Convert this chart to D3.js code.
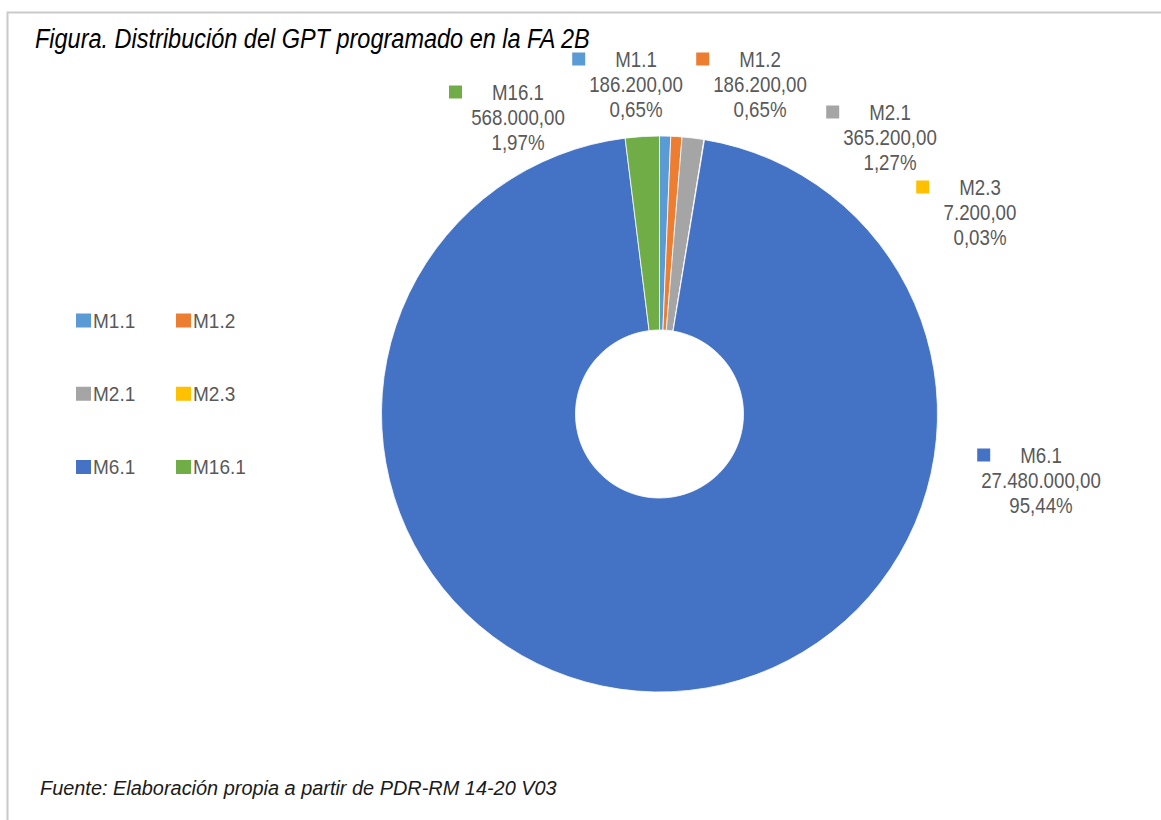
<!DOCTYPE html>
<html>
<head>
<meta charset="utf-8">
<script src="https://cdn.jsdelivr.net/npm/d3@7"></script>
<style>
  body { margin: 0; background: #fff; }
  svg { display: block; }
  text { font-family: "Liberation Sans Narrow", "Arial Narrow", "Liberation Sans", sans-serif; }
</style>
</head>
<body>
<div id="chart-area"></div>
<script>
// Data
let categories = ["M1.1", "M1.2", "M2.1", "M2.3", "M6.1", "M16.1"];
let values = [186200, 186200, 365200, 7200, 27480000, 568000];
let valueLabels = ["186.200,00", "186.200,00", "365.200,00", "7.200,00", "27.480.000,00", "568.000,00"];
let percentLabels = ["0,65%", "0,65%", "1,27%", "0,03%", "95,44%", "1,97%"];
let colors = ["#5B9BD5", "#ED7D31", "#A5A5A5", "#FFC000", "#4472C4", "#70AD47"];

// where Excel put each data label (centre of the value line)
let labelAt = [[636, 84], [760, 84], [890, 137], [980, 212], [1041, 480], [518, 117]];

let width = 1161,
  height = 820;

// squeeze a text horizontally, the installed fonts are wider than the narrow one used
function condense(sel, k) {
  sel.each(function() {
    let w = this.getComputedTextLength();
    d3.select(this)
      .attr("textLength", w * k)
      .attr("lengthAdjust", "spacingAndGlyphs");
  });
}

// squeeze a left-anchored text to a given width with a transform
function fitWidth(sel, x, y, target) {
  let w = sel.node().getComputedTextLength();
  sel
    .attr("x", 0)
    .attr("y", 0)
    .attr("transform", "translate(" + x + "," + y + ") scale(" + target / w + ",1)");
}

let svg = d3
  .select("#chart-area")
  .append("svg")
  .attr("width", width)
  .attr("height", height);

// frame
svg
  .append("path")
  .attr("d", "M7.5,820 L7.5,12.5 L1161,12.5")
  .attr("fill", "none")
  .attr("stroke", "#c9c9c9")
  .attr("stroke-width", 2);

// title
svg
  .append("text")
  .text("Figura. Distribución del GPT programado en la FA 2B")
  .style("font-size", "27px")
  .style("font-style", "italic")
  .style("fill", "#000")
  .call(fitWidth, 35, 48, 555);

// footer
svg
  .append("text")
  .text("Fuente: Elaboración  propia a partir de  PDR-RM 14-20 V03")
  .style("font-size", "21px")
  .style("font-style", "italic")
  .style("fill", "#1a1a1a")
  .call(fitWidth, 40, 795, 517);

// Donut
let cx = 659.5,
  cy = 414,
  outerR = 278,
  innerR = 84;

let pie = d3.pie().sort(null).value(d => d);
let arcs = pie(values);

let arc = d3.arc().innerRadius(innerR).outerRadius(outerR);

let g = svg.append("g").attr("transform", "translate(" + cx + "," + cy + ")");

g.selectAll("path.slice")
  .data(arcs)
  .enter()
  .append("path")
  .attr("class", "slice")
  .attr("d", arc)
  .attr("fill", (d, i) => colors[i])
  .attr("stroke", "#fff")
  .attr("stroke-width", 0.8);

// Data labels
let lineGap = 25;
let labelGroups = svg
  .selectAll("g.dlabel")
  .data(arcs)
  .enter()
  .append("g")
  .attr("class", "dlabel")
  .attr("transform", (d, i) => "translate(" + labelAt[i][0] + "," + labelAt[i][1] + ")");

labelGroups.each(function(d, i) {
  let lg = d3.select(this);
  let lines = [categories[i], valueLabels[i], percentLabels[i]];
  lines.forEach((t, k) => {
    lg.append("text")
      .attr("class", "line" + k)
      .text(t)
      .attr("x", 0)
      .attr("y", (k - 1) * lineGap)
      .attr("text-anchor", "middle")
      .attr("dominant-baseline", "central")
      .style("font-size", "22px")
      .style("fill", "#595959");
  });
  condense(lg.selectAll("text"), 0.85);
  let nameW = lg.select(".line0").node().getComputedTextLength();
  lg.append("rect")
    .attr("x", -nameW / 2 - 30 - 13)
    .attr("y", -lineGap - 6.5)
    .attr("width", 13)
    .attr("height", 13)
    .attr("fill", colors[i]);
});

// Legend (2 columns x 3 rows)
let legendX = d3.scaleOrdinal().domain([0, 1]).range([76, 176]);
let legendY = d3.scalePoint().domain([0, 1, 2]).range([320.5, 467]);

let legend = svg
  .selectAll("g.legend")
  .data(categories)
  .enter()
  .append("g")
  .attr("class", "legend")
  .attr("transform", (d, i) => "translate(" + legendX(i % 2) + "," + legendY(Math.floor(i / 2)) + ")");

legend
  .append("rect")
  .attr("x", 0)
  .attr("y", -7)
  .attr("width", 15)
  .attr("height", 14)
  .attr("fill", (d, i) => colors[i]);

legend
  .append("text")
  .text(d => d)
  .attr("x", 17)
  .attr("y", 0)
  .attr("dominant-baseline", "central")
  .style("font-size", "20px")
  .style("fill", "#595959")
  .call(condense, 0.95);
</script>
</body>
</html>
